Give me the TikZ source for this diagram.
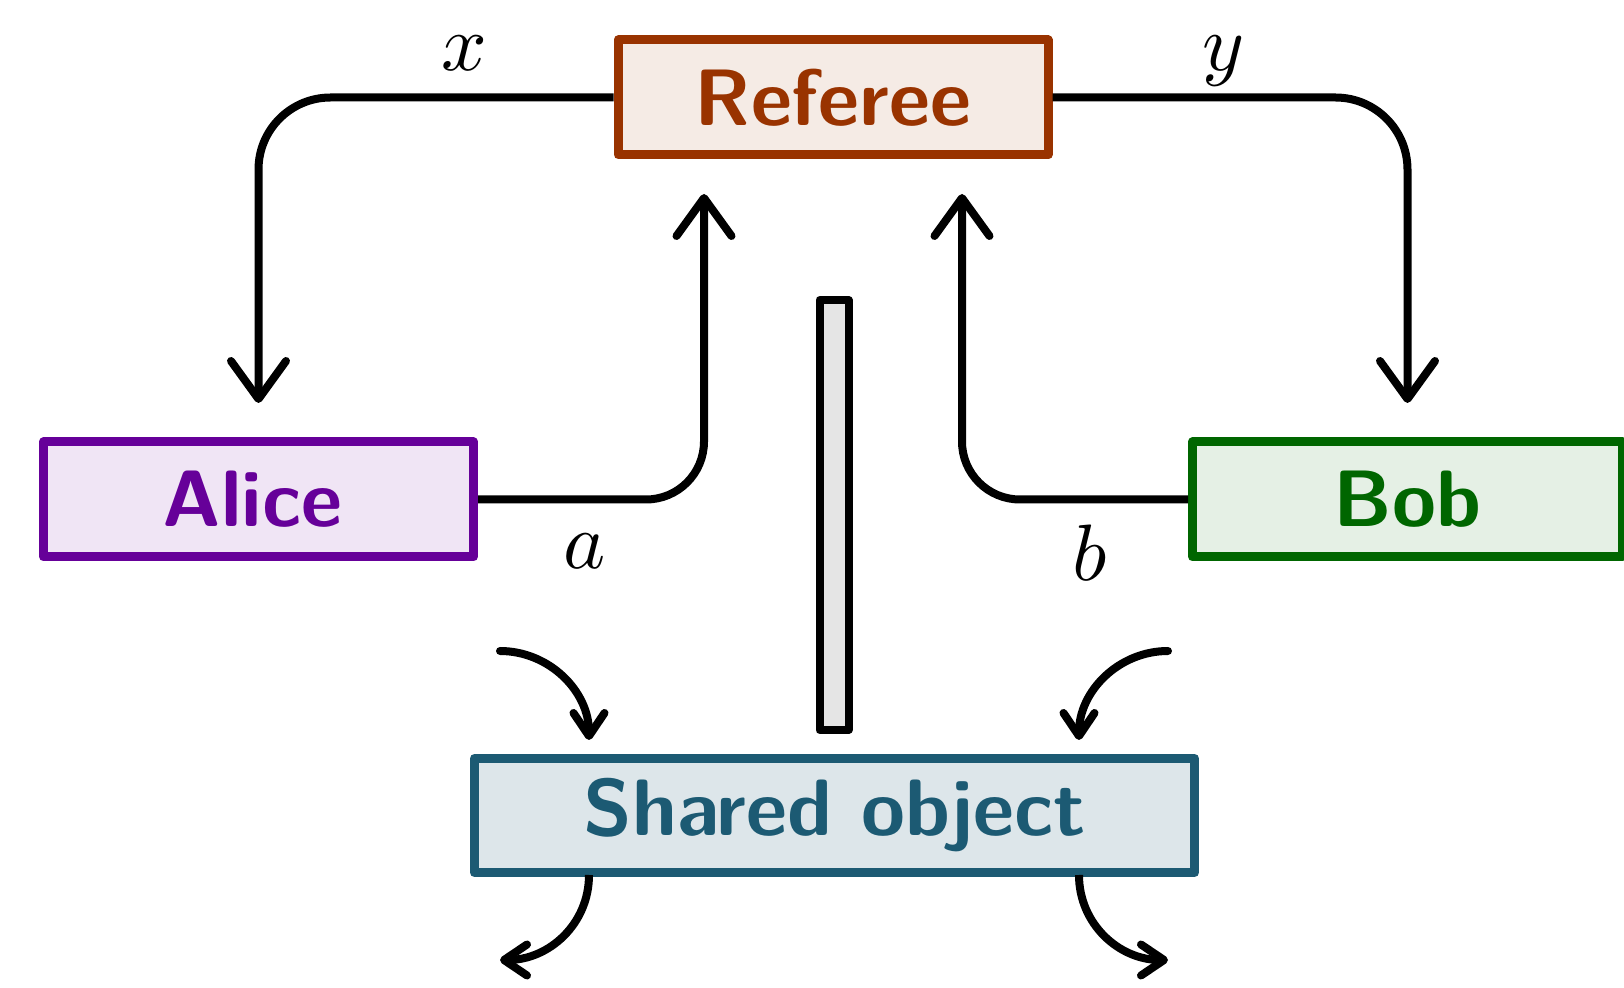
\documentclass[tikz,border=0pt]{standalone}
\usetikzlibrary{arrows.meta}
\definecolor{refc}{HTML}{993300}
\definecolor{alic}{HTML}{660099}
\definecolor{bobc}{HTML}{006600}
\definecolor{shc}{HTML}{1C5A73}
\tikzset{
  agent/.style={draw=#1, fill=#1!10, text=#1, line width=4.5pt, line join=round,
    minimum width=215pt, minimum height=57.5pt, inner sep=0pt,
    font=\fontsize{40}{48}\selectfont\sffamily\bfseries},
  conn/.style={line width=4pt, rounded corners=#1},
  bigtip/.style={-{Straight Barb[length=19pt,width=27.5pt,round]}},
  smalltip/.style={-{Straight Barb[length=11.5pt,width=15.5pt,round]}},
  lab/.style={font=\fontsize{10}{12}\selectfont, inner sep=0pt, scale=4},
}
\begin{document}
\begin{tikzpicture}[x=0.5pt,y=-0.5pt]
\useasboundingbox (0,0) rectangle (1624,988);
% boxes
\node[agent=refc] (ref) at (833,97.5) {Referee};
\node[agent=alic] (alice) at (258.5,499.5) {\hspace*{-6pt}Alice};
\node[agent=bobc] (bob) at (1407.5,499.5) {Bob};
\node[draw=shc, fill=shc!15, text=shc, line width=4.5pt, line join=round,
      minimum width=360pt, minimum height=57pt, inner sep=0pt,
      font=\fontsize{40}{48}\selectfont\sffamily\bfseries] (shared) at (834.5,815.5) {Shared object};
\node[draw, fill=black!10, line width=4pt, line join=round, minimum width=14.5pt,
      minimum height=215pt, inner sep=0pt] (bar) at (834,515) {};
% end coordinates
\coordinate (xin) at (258.5,403);
\coordinate (yin) at (1407.5,403);
\coordinate (aout) at (704,194);
\coordinate (bout) at (962,194);
% connectors
\draw[conn=36pt, bigtip] (ref.west) -| (xin);
\draw[conn=36pt, bigtip] (ref.east) -| (yin);
\draw[conn=29pt, bigtip] (alice.east) -| (aout);
\draw[conn=29pt, bigtip] (bob.west) -| (bout);
% labels
\node[lab] (lx) at (464,53) {$x$};
\node[lab] (ly) at (1224,61) {$y$};
\node[lab] (la) at (585,551) {$a$};
\node[lab] (lb) at (1090,553) {$b$};
% small curved arrows
\coordinate (tls) at (500,651);
\coordinate (tle) at (589,740);
\coordinate (trs) at (1168,651);
\coordinate (tre) at (1079,740);
\coordinate (bls) at (589,875);
\coordinate (ble) at (500,960);
\coordinate (brs) at (1079,875);
\coordinate (bre) at (1168,960);
\draw[line width=4pt, line cap=round, smalltip] (tls) .. controls (549,651) and (589,691) .. (tle);
\draw[line width=4pt, line cap=round, smalltip] (trs) .. controls (1119,651) and (1079,691) .. (tre);
\draw[line width=4pt, smalltip] (bls) .. controls (589,924) and (549,960) .. (ble);
\draw[line width=4pt, smalltip] (brs) .. controls (1079,924) and (1119,960) .. (bre);
\end{tikzpicture}
\end{document}
